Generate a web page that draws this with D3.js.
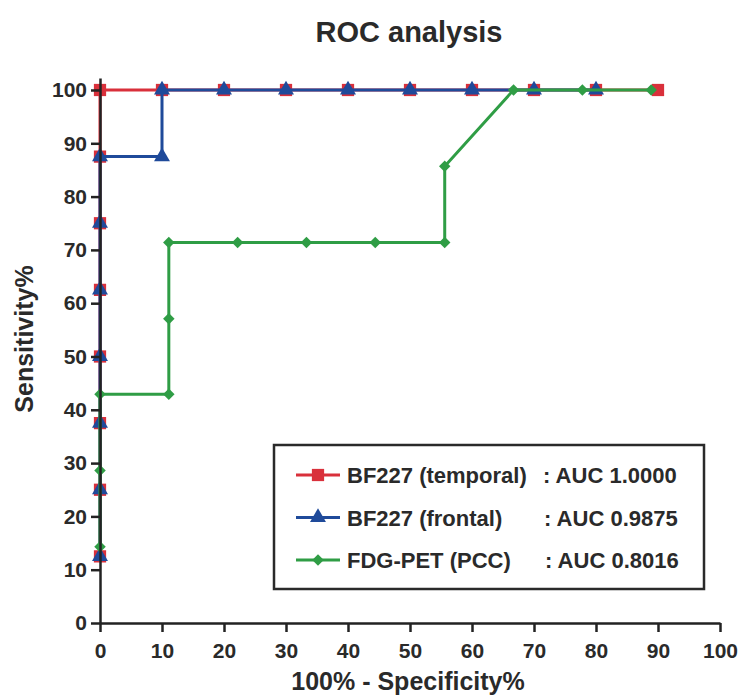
<!DOCTYPE html>
<html>
<head>
<meta charset="utf-8">
<script src="https://cdn.jsdelivr.net/npm/d3@7"></script>
<style>
  body { margin: 0; background: #fff; }
  text { font-family: "Liberation Sans", Arial, sans-serif; font-weight: bold; fill: #2a2a2a; }
</style>
</head>
<body>
<div class="chart"></div>
<script>
// ROC points : [100% - specificity, sensitivity]
const temporal = [[0,12.5],[0,25],[0,37.5],[0,50],[0,62.5],[0,75],[0,87.5],[0,100],
	[10,100],[20,100],[30,100],[40,100],[50,100],[60,100],[70,100],[80,100],[90,100]];
const frontal = [[0,12.5],[0,25],[0,37.5],[0,50],[0,62.5],[0,75],[0,87.5],
	[10,87.5],[10,100],[20,100],[30,100],[40,100],[50,100],[60,100],[70,100],[80,100]];
const fdgpet = [[0,14.3],[0,28.6],[0,42.9],[11.1,42.9],[11.1,57.1],[11.1,71.4],
	[22.2,71.4],[33.3,71.4],[44.4,71.4],[55.6,71.4],[55.6,85.7],[66.7,100],[77.8,100],[88.9,100]];

const seriesNames = ["BF227 (temporal)", "BF227 (frontal)", "FDG-PET (PCC)"];
const aucLabels = [": AUC 1.0000", ": AUC 0.9875", ": AUC 0.8016"];
const xTicks = [0,10,20,30,40,50,60,70,80,90,100];
const yTicks = [0,10,20,30,40,50,60,70,80,90,100];

const colors = ["#d9303b", "#1f4a9a", "#2f9d45"];
const symbols = [
	{type: d3.symbolSquare, size: 150, rot: 0},
	{type: d3.symbolTriangle, size: 110, rot: 0},
	{type: d3.symbolSquare, size: 66, rot: 45}
];

const W = 745, H = 697;
const svg = d3.select(".chart").append("svg")
	.attr("width", W).attr("height", H);

const x = d3.scaleLinear().domain([0, 100]).range([100, 720]);
const y = d3.scaleLinear().domain([0, 102.25]).range([623, 78]);

// titre
svg.append("text")
	.attr("x", 409).attr("y", 42)
	.attr("text-anchor", "middle")
	.style("font-size", "29px")
	.text("ROC analysis");

const line = d3.line()
	.x(d => x(d[0]))
	.y(d => y(d[1]));

// courbes
[temporal, frontal, fdgpet].forEach(function(data, i) {
	svg.append("path")
		.datum(data)
		.attr("fill", "none")
		.attr("stroke", colors[i])
		.attr("stroke-width", 3)
		.attr("d", line);

	svg.selectAll(".pt" + i)
		.data(data)
		.enter().append("path")
		.attr("class", "pt" + i)
		.attr("fill", colors[i])
		.attr("d", d3.symbol().type(symbols[i].type).size(symbols[i].size))
		.attr("transform", d => "translate(" + x(d[0]) + "," + y(d[1]) + ") rotate(" + symbols[i].rot + ")");
});

// axe X
const gx = svg.append("g")
	.attr("transform", "translate(0,623)")
	.call(d3.axisBottom(x).tickValues(xTicks).tickSizeInner(9).tickSizeOuter(0).tickPadding(11));
gx.selectAll("text").style("font-size", "21px");

// axe Y
const gy = svg.append("g")
	.attr("transform", "translate(100,0)")
	.call(d3.axisLeft(y).tickValues(yTicks).tickSizeInner(9).tickSizeOuter(0).tickPadding(4));
gy.selectAll("text").style("font-size", "21px");

svg.selectAll(".domain, .tick line")
	.attr("stroke", "#222")
	.attr("stroke-width", 2.5);

// titres des axes
svg.append("text")
	.attr("x", 408).attr("y", 690)
	.attr("text-anchor", "middle")
	.style("font-size", "25px")
	.text("100% - Specificity%");

svg.append("text")
	.attr("transform", "translate(33,339) rotate(-90)")
	.attr("text-anchor", "middle")
	.style("font-size", "25px")
	.text("Sensitivity%");

// légende
svg.append("rect")
	.attr("x", 274).attr("y", 445)
	.attr("width", 430).attr("height", 144)
	.attr("fill", "#fff")
	.attr("stroke", "#2a2a2a")
	.attr("stroke-width", 2.5);

const legend = svg.selectAll(".legend")
	.data(seriesNames)
	.enter().append("g")
	.attr("class", "legend")
	.attr("transform", (_, i) => "translate(0," + (475 + i * 42.5) + ")");

legend.append("line")
	.attr("x1", 296).attr("x2", 340)
	.attr("stroke", (_, i) => colors[i])
	.attr("stroke-width", 3);

legend.append("path")
	.attr("fill", (_, i) => colors[i])
	.attr("d", (_, i) => d3.symbol().type(symbols[i].type).size(symbols[i].size)())
	.attr("transform", (_, i) => "translate(318,0) rotate(" + symbols[i].rot + ")");

legend.append("text")
	.attr("x", 347).attr("y", 8)
	.style("font-size", "22px")
	.text(d => d);

legend.append("text")
	.attr("x", (_, i) => 543 + i)
	.attr("y", 8)
	.style("font-size", "22px")
	.text((_, i) => aucLabels[i]);
</script>
</body>
</html>
